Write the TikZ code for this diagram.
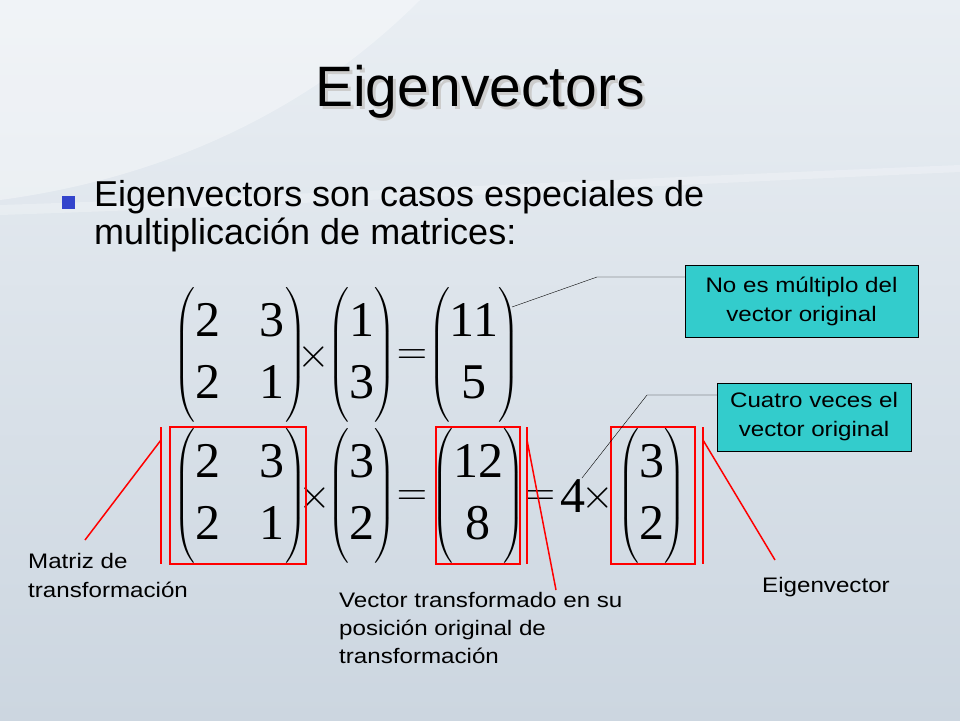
\documentclass[tikz,border=0pt]{standalone}
\usepackage{fix-cm}
\usepackage{amsmath}
\usepackage{fontspec}
\setsansfont{Liberation Sans}
\newfontfamily\tnr{Liberation Serif}
\newfontfamily\lblfont[FakeStretch=1.15]{Liberation Sans}
\definecolor{bgA}{HTML}{E9EEF3}
\definecolor{bgB}{HTML}{CCD6E0}
\definecolor{teal}{HTML}{33CCCC}
\definecolor{bul}{HTML}{3344CC}
\newcommand{\dg}[1]{\mbox{\tnr\fontsize{50}{50}\selectfont #1}}
\tikzset{
 lbl/.style={font=\lblfont\fontsize{21}{28}\selectfont,anchor=base west,inner sep=0pt},
 callbox/.style={draw=black,fill=teal,font=\lblfont\fontsize{21}{29}\selectfont,align=center,inner sep=0pt},
 redbox/.style={draw=red,line width=1.5pt},
 redln/.style={red,line width=1.5pt},
 mth/.style={inner sep=0pt,font=\fontsize{42}{50}\selectfont},
}
\begin{document}
\begin{tikzpicture}[x=1pt,y=-1pt]
\useasboundingbox (0,0) rectangle (960,720);
\shade[top color=bgA,bottom color=bgB] (0,0) rectangle (960,720);
\fill[white,opacity=0.35] (0,0) -- (420,0) .. controls (300,120) and (150,180) .. (0,200) -- cycle;
\fill[white,opacity=0.25] (0,205) .. controls (300,195) and (600,180) .. (960,165) -- (960,172) .. controls (600,188) and (300,205) .. (0,215) -- cycle;
% title
\node[font=\sffamily\fontsize{57}{57}\selectfont,text=black!20,inner sep=0pt] at (483,95) {Eigenvectors};
\node[font=\sffamily\fontsize{57}{57}\selectfont,inner sep=0pt] (title) at (480,92) {Eigenvectors};
% bullet
\fill[bul] (62,196) rectangle (75,209);
\node[font=\sffamily\fontsize{36}{38}\selectfont,anchor=north west,inner sep=0pt,text width=610pt,align=justify] (bt) at (94,180) {Eigenvectors son casos especiales de\linebreak multiplicación de matrices:};
% row 1
\renewcommand{\arraystretch}{1.25}
\setlength{\arraycolsep}{20pt}
\node[mth] (m1) at (240,355) {$\begin{pmatrix}\dg{2}&\dg{3}\\\dg{2}&\dg{1}\end{pmatrix}$};
\node[mth] at (314,357) {$\times$};
\setlength{\arraycolsep}{9pt}
\node[mth] (v1) at (362,355) {$\begin{pmatrix}\dg{1}\\\dg{3}\end{pmatrix}$};
\node[mth] at (412,357) {$=$};
\node[mth] (r1) at (474,355) {$\begin{pmatrix}\dg{11}\\\dg{5}\end{pmatrix}$};
% row 2
\setlength{\arraycolsep}{20pt}
\node[mth] (m2) at (240,496) {$\begin{pmatrix}\dg{2}&\dg{3}\\\dg{2}&\dg{1}\end{pmatrix}$};
\node[mth] at (315,498) {$\times$};
\setlength{\arraycolsep}{9pt}
\node[mth] (v2) at (362,496) {$\begin{pmatrix}\dg{3}\\\dg{2}\end{pmatrix}$};
\node[mth] at (412,498) {$=$};
\node[mth] (r2) at (478,496) {$\begin{pmatrix}\dg{12}\\\dg{8}\end{pmatrix}$};
\node[mth] (eq2) at (540,498) {$=$};
\node[mth] (four) at (573,496) {\dg{4}};
\node[mth] at (598,498) {$\times$};
\node[mth] (e2) at (652,496) {$\begin{pmatrix}\dg{3}\\\dg{2}\end{pmatrix}$};
% red boxes
\draw[redbox] (170,427) rectangle (306,564);
\draw[redbox] (436,427) rectangle (520,564);
\draw[redbox] (611,427) rectangle (695,564);
\draw[redln] (161,427) -- (161,564);
\draw[redln] (527,427) -- (527,564);
\draw[redln] (703,427) -- (703,564);
% callouts
\node[callbox,minimum width=233pt,minimum height=72pt] (ca) at (801.5,301) {No es múltiplo del\\vector original};
\node[callbox,minimum width=194pt,minimum height=68pt] (cb) at (814,417) {Cuatro veces el\\vector original};
\coordinate (pa) at (512,307);
\coordinate (pb) at (582,478);
\draw[black] (pa) -- (597,277) -- (ca.west |- 0,277);
\draw[black] (pb) -- (647,395) -- (cb.west |- 0,395);
% labels
\node[lbl] (l1a) at (28,568) {Matriz de};
\node[lbl] (l1b) at (28,597) {transformación};
\node[lbl] (l2a) at (339,607) {Vector transformado en su};
\node[lbl] (l2b) at (339,635) {posición original de};
\node[lbl] (l2c) at (339,663) {transformación};
\node[lbl] (l3) at (762,592) {Eigenvector};
\draw[redln] (161,440) -- (85,540);
\draw[redln] (527,440) -- (556,590);
\draw[redln] (703,440) -- (775,560);
\end{tikzpicture}
\end{document}
